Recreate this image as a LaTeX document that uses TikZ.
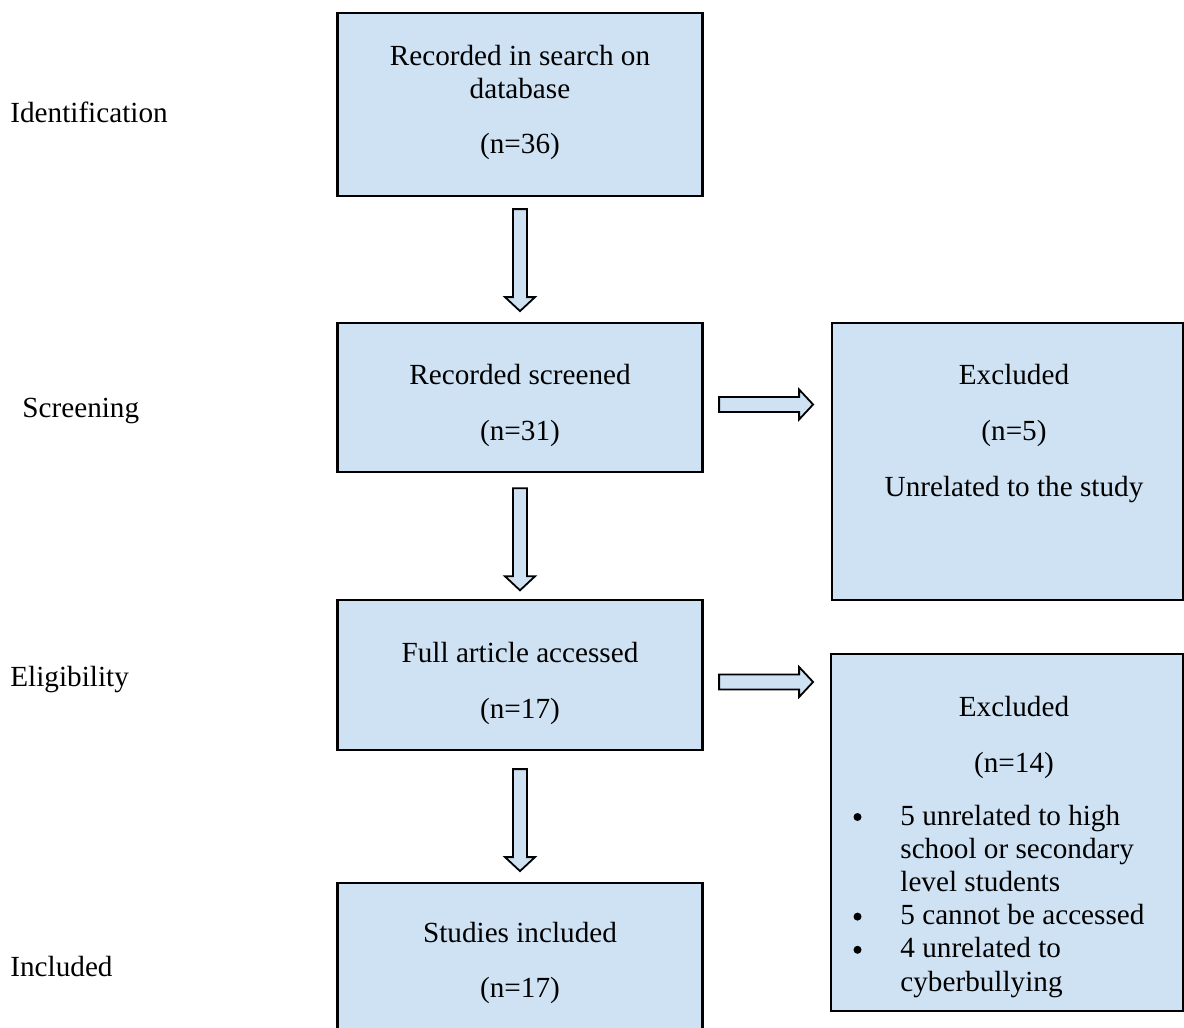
\documentclass[tikz,border=0pt]{standalone}
\usepackage{fontspec}
\setmainfont{Liberation Serif}
\usetikzlibrary{calc}
\definecolor{boxblue}{RGB}{207,226,243}
\tikzset{
  box/.style={draw=black, line width=1.1pt, fill=boxblue, inner sep=0pt},
  txt/.style={anchor=base, inner sep=0pt, font=\fontsize{14.6}{16}\selectfont},
  ltxt/.style={anchor=base west, inner sep=0pt, font=\fontsize{14.6}{16}\selectfont},
  arr/.style={draw=black, line width=0.9pt, fill=boxblue, line join=miter},
  downarrow/.pic={\draw[arr] (-7,0) -- (-7,88) -- (-15,88) -- (0,102) -- (15,88) -- (7,88) -- (7,0) -- cycle;},
  rightarrow/.pic={\draw[arr] (0,-7.5) -- (80,-7.5) -- (80,-15) -- (94,0) -- (80,15) -- (80,7.5) -- (0,7.5) -- cycle;}
}
\begin{document}
\begin{tikzpicture}[x=0.5pt,y=-0.5pt]
\useasboundingbox (0,0) rectangle (1184,1028);
% boxes
\node[box, minimum width=182.5pt, minimum height=91.6pt] (b1) at (520,104.4) {};
\node[box, minimum width=182.5pt, minimum height=74.5pt] (b2) at (520,397.2) {};
\node[box, minimum width=182.5pt, minimum height=75pt] (b3) at (520,675) {};
\node[box, minimum width=182.5pt, minimum height=80pt] (b4) at (520,962.7) {};
\node[box, minimum width=175.5pt, minimum height=138.6pt] (r1) at (1007.5,461.3) {};
\node[box, minimum width=176pt, minimum height=178.5pt] (r2) at (1007,832.5) {};
% arrows
\pic at ($(b1.south)+(0,12)$) {downarrow};
\pic at ($(b2.south)+(0,15.5)$) {downarrow};
\pic at ($(b3.south)+(0,18)$) {downarrow};
\pic at ($(b2.east)+(15.5,7.3)$) {rightarrow};
\pic at ($(b3.east)+(15.5,7)$) {rightarrow};
% box texts
\node[txt] (t1a) at (520,65) {Recorded in search on};
\node[txt] (t1b) at (520,98) {database};
\node[txt] (t1c) at (520,153) {(n=36)};
\node[txt] (t2a) at (520,384) {Recorded screened};
\node[txt] (t2b) at (520,440) {(n=31)};
\node[txt] (t3a) at (520,662) {Full article accessed};
\node[txt] (t3b) at (520,718) {(n=17)};
\node[txt] (t4a) at (520,942) {Studies included};
\node[txt] (t4b) at (520,997) {(n=17)};
\node[txt] (r1a) at (1014,384) {Excluded};
\node[txt] (r1b) at (1014,440) {(n=5)};
\node[txt] (r1c) at (1014,496) {Unrelated to the study};
\node[txt] (r2a) at (1014,716) {Excluded};
\node[txt] (r2b) at (1014,772) {(n=14)};
% bullet list
\foreach \y/\t/\b in {825/{5 unrelated to high}/1, 858.2/{school or secondary}/0, 891.4/{level students}/0, 924.6/{5 cannot be accessed}/1, 957.8/{4 unrelated to}/1, 991/{cyberbullying}/0}{
  \node[ltxt] (bl\y) at (900,\y) {\t};
  \ifnum\b=1 \fill (857.5,\y-8) circle (4);\fi
}
% stage labels
\node[ltxt] (s1) at (10,122) {Identification};
\node[ltxt] (s2) at (22,417) {Screening};
\node[ltxt] (s3) at (10,686) {Eligibility};
\node[ltxt] (s4) at (10,976) {Included};
\end{tikzpicture}
\end{document}
